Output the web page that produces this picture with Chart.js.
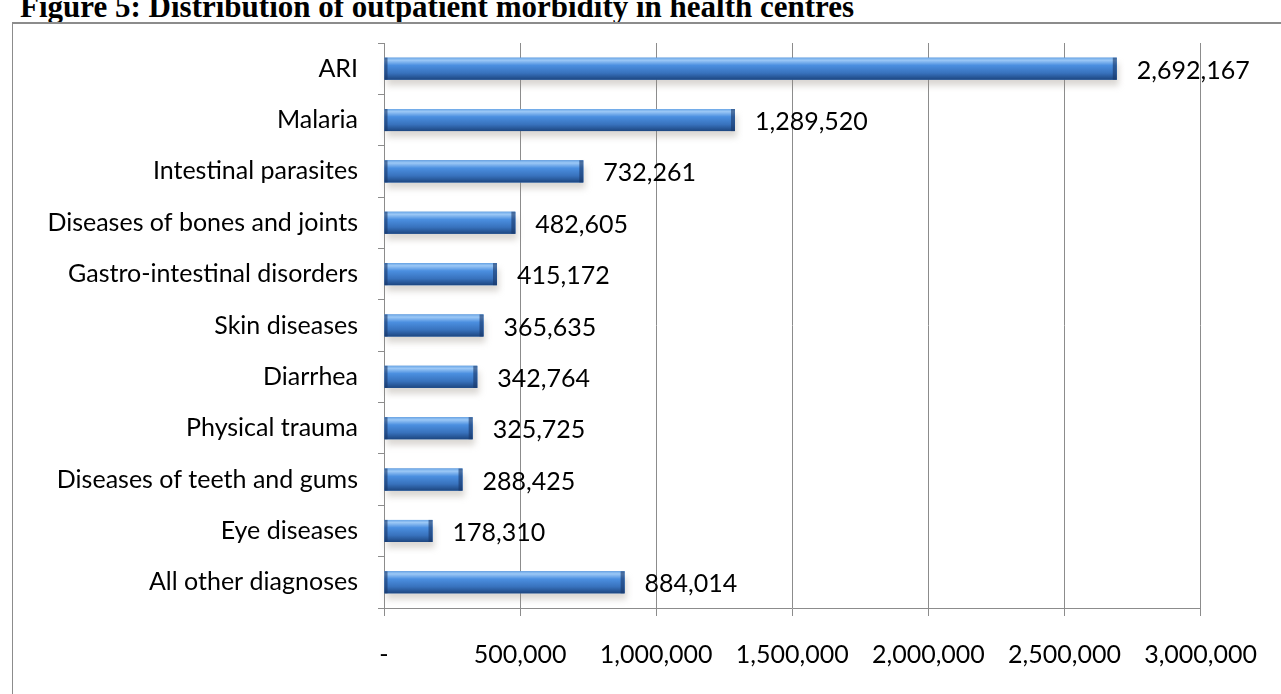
<!DOCTYPE html>
<html>
<head>
<meta charset="utf-8">
<script src="https://cdn.jsdelivr.net/npm/chart.js@4"></script>
<style>
  body { margin: 0; background: #fff; width: 1281px; height: 694px; overflow: hidden; position: relative; }
  #title { position: absolute; left: 20px; top: -9px; font: bold 31px "Liberation Serif", "Times New Roman", serif; line-height: 31px; white-space: nowrap; color: #000; }
  #box { position: absolute; left: 12px; top: 22px; width: 1290px; height: 700px; border: 1px solid #8c8c8c; border-top: 2px solid #8c8c8c; box-sizing: border-box; }
  #wrap { position: absolute; left: 13px; top: 24px; width: 1268px; height: 670px; }
</style>
</head>
<body>
<div id="title">Figure 5: Distribution of outpatient morbidity in health centres</div>
<div id="box"></div>
<div id="wrap"><canvas id="morbidityChart"></canvas></div>
<script>
let diagnoses = ["ARI", "Malaria", "Intestinal parasites", "Diseases of bones and joints", "Gastro-intestinal disorders", "Skin diseases", "Diarrhea", "Physical trauma", "Diseases of teeth and gums", "Eye diseases", "All other diagnoses"];
let cases = [2692167, 1289520, 732261, 482605, 415172, 365635, 342764, 325725, 288425, 178310, 884014];
let xTicks = [0, 500000, 1000000, 1500000, 2000000, 2500000, 3000000];

let labelFont = { family: "Lato, 'Open Sans', sans-serif", size: 25 };

function fmt(v) {
  return v === 0 ? '-' : v.toLocaleString('en-US');
}

// shaded "cylinder" look plus value labels at the end of each bar
let barStyle = {
  id: 'barStyle',
  beforeDatasetsDraw(chart) {
    let c = chart.ctx;
    chart.getDatasetMeta(0).data.forEach(function (bar) {
      let p = bar.getProps(['x', 'y', 'base', 'height'], true);
      c.save();
      c.fillStyle = 'rgba(150,140,130,0.35)';
      c.filter = 'blur(3px)';
      c.fillRect(p.base + 2, p.y - p.height / 2 + 6, p.x - p.base, p.height);
      c.restore();
    });
  },
  afterDatasetsDraw(chart) {
    let c = chart.ctx;
    chart.getDatasetMeta(0).data.forEach(function (bar, i) {
      let p = bar.getProps(['x', 'y', 'base', 'height'], true);
      let top = p.y - p.height / 2;
      let g = c.createLinearGradient(0, top, 0, top + p.height);
      g.addColorStop(0, '#6aa6e6');
      g.addColorStop(0.12, '#9cc8f6');
      g.addColorStop(0.35, '#4b8fe0');
      g.addColorStop(0.7, '#3872bd');
      g.addColorStop(1, '#1d4680');
      c.save();
      c.fillStyle = g;
      c.fillRect(p.base, top, p.x - p.base, p.height);
      c.fillStyle = 'rgba(25,55,105,0.6)';
      c.fillRect(p.x - 4, top, 4, p.height);
      c.fillRect(p.base, top, 3, p.height);
      c.restore();

      c.save();
      c.font = labelFont.size + 'px ' + labelFont.family;
      c.fillStyle = '#000';
      c.textAlign = 'left';
      c.textBaseline = 'middle';
      c.fillText(fmt(cases[i]), p.x + 20, p.y + 2);
      c.restore();
    });
  }
};

new Chart(document.getElementById('morbidityChart'), {
  type: 'bar',
  data: {
    labels: diagnoses,
    datasets: [{
      data: cases,
      backgroundColor: '#4a86cf',
      categoryPercentage: 1,
      barPercentage: 0.43
    }]
  },
  options: {
    indexAxis: 'y',
    responsive: true,
    maintainAspectRatio: false,
    animation: false,
    layout: { padding: { top: 19, right: 80, left: 0, bottom: 0 } },
    plugins: {
      legend: { display: false },
      tooltip: { enabled: false }
    },
    scales: {
      x: {
        min: 0,
        max: 3000000,
        afterBuildTicks: function (scale) {
          scale.ticks = xTicks.map(function (v) { return { value: v }; });
        },
        afterFit: function (scale) { scale.height = 86; },
        grid: { color: '#8c8c8c', tickLength: 8 },
        border: { color: '#8c8c8c' },
        ticks: {
          color: '#000',
          font: labelFont,
          padding: 24,
          maxRotation: 0,
          callback: function (v) { return fmt(v); }
        }
      },
      y: {
        afterFit: function (scale) {
          scale.width = 371;
          scale.paddingTop = 0;
          scale.paddingBottom = 0;
        },
        grid: { drawOnChartArea: false, color: '#8c8c8c', tickLength: 6 },
        border: { color: '#8c8c8c' },
        ticks: { color: '#000', font: labelFont, padding: 20 }
      }
    }
  },
  plugins: [barStyle]
});
</script>
</body>
</html>
